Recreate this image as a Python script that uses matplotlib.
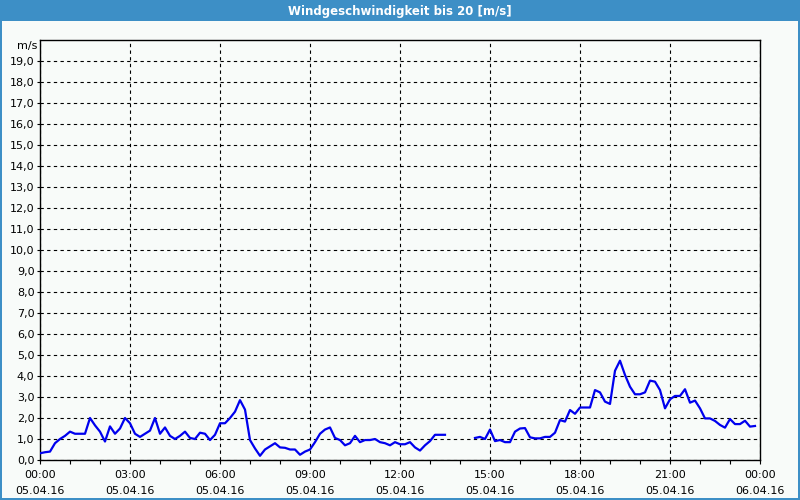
import numpy as np
import matplotlib
matplotlib.use("Agg")
import matplotlib.pyplot as plt
from matplotlib.patches import Rectangle

title = "Windgeschwindigkeit bis 20 [m/s]"
unit = "m/s"
# wind speed every 10 minutes from 05.04.16 00:00 (None = no data)
wind = [
    0.32, 0.37, 0.40, 0.80, 1.00, 1.15, 1.35, 1.25, 1.25, 1.25,
    2.00, 1.65, 1.35, 0.88, 1.60, 1.25, 1.50, 2.00, 1.75, 1.25,
    1.10, 1.25, 1.40, 2.00, 1.25, 1.55, 1.15, 1.00, 1.15, 1.35,
    1.05, 1.00, 1.30, 1.25, 0.95, 1.20, 1.75, 1.75, 2.00, 2.30,
    2.85, 2.40, 0.95, 0.55, 0.20, 0.50, 0.65, 0.80, 0.60, 0.58,
    0.50, 0.50, 0.25, 0.40, 0.50, 0.85, 1.25, 1.45, 1.55, 1.05,
    0.95, 0.70, 0.80, 1.15, 0.85, 0.95, 0.95, 1.00, 0.85, 0.80,
    0.70, 0.85, 0.75, 0.75, 0.85, 0.60, 0.45, 0.70, 0.90, 1.20,
    1.20, 1.20, None, None, None, None, None, 1.05, 1.10, 1.00,
    1.45, 0.90, 0.95, 0.85, 0.85, 1.35, 1.50, 1.52, 1.08, 1.03,
    1.03, 1.10, 1.10, 1.30, 1.90, 1.83, 2.38, 2.20, 2.50, 2.50,
    2.50, 3.33, 3.22, 2.78, 2.67, 4.25, 4.73, 4.05, 3.49, 3.13,
    3.13, 3.22, 3.78, 3.73, 3.33, 2.46, 2.89, 3.05, 3.05, 3.37,
    2.73, 2.83, 2.46, 1.98, 1.98, 1.86, 1.67, 1.54, 1.95, 1.71,
    1.71, 1.87, 1.59, 1.62,
]
x_ticks_hours = [0, 3, 6, 9, 12, 15, 18, 21, 24]
x_tick_labels = ["00:00\n05.04.16", "03:00\n05.04.16", "06:00\n05.04.16",
                 "09:00\n05.04.16", "12:00\n05.04.16", "15:00\n05.04.16",
                 "18:00\n05.04.16", "21:00\n05.04.16", "00:00\n06.04.16"]
y_ticks = list(range(0, 20))
y_tick_labels = [f"{v},0" for v in y_ticks]

bg = "#f8fbf9"
blue_frame = "#3d8fc6"

fig = plt.figure(figsize=(8, 5), dpi=100, facecolor=bg)

# title bar and window border
fig.patches.append(Rectangle((0, 1 - 21/500), 1, 21/500, transform=fig.transFigure,
                             facecolor=blue_frame, edgecolor="none", zorder=0))
fig.patches.append(Rectangle((0, 0), 2/800, 1, transform=fig.transFigure,
                             facecolor=blue_frame, edgecolor="none", zorder=0))
fig.patches.append(Rectangle((1 - 2/800, 0), 2/800, 1, transform=fig.transFigure,
                             facecolor=blue_frame, edgecolor="none", zorder=0))
fig.patches.append(Rectangle((0, 0), 1, 2/500, transform=fig.transFigure,
                             facecolor=blue_frame, edgecolor="none", zorder=0))
fig.text(0.5, 1 - 11/500, title, color="white", ha="center", va="center",
         fontsize=8.5, fontweight="bold", family="DejaVu Sans")

ax = fig.add_axes([40/800, 40/500, 720/800, 420/500])
ax.set_facecolor(bg)

t = np.arange(len(wind)) / 6.0
vals = np.array([np.nan if v is None else v for v in wind], dtype=float)
ax.plot(t, vals, color="#0000ee", linewidth=1.6, zorder=3)

ax.set_xlim(0, 24)
ax.set_ylim(0, 20)
ax.set_xticks(x_ticks_hours)
ax.set_xticklabels(x_tick_labels, fontsize=8, linespacing=1.75)
ax.set_xticks(np.arange(0, 25, 1), minor=True)
ax.set_yticks(y_ticks)
ax.set_yticklabels(y_tick_labels, fontsize=8)

ax.tick_params(axis="x", which="both", direction="out", length=3, width=0.8, pad=4)
ax.tick_params(axis="y", which="both", direction="out", length=2, width=0.8, pad=2)

ax.grid(True, which="major", color="black", linestyle=(0, (3, 3)), linewidth=0.8)
ax.set_axisbelow(True)
for sp in ax.spines.values():
    sp.set_color("black")
    sp.set_linewidth(1.0)

fig.text(37/800, 1 - 46/500, unit, ha="right", va="center", fontsize=8)

fig.savefig("out.png", dpi=100, facecolor=bg)
